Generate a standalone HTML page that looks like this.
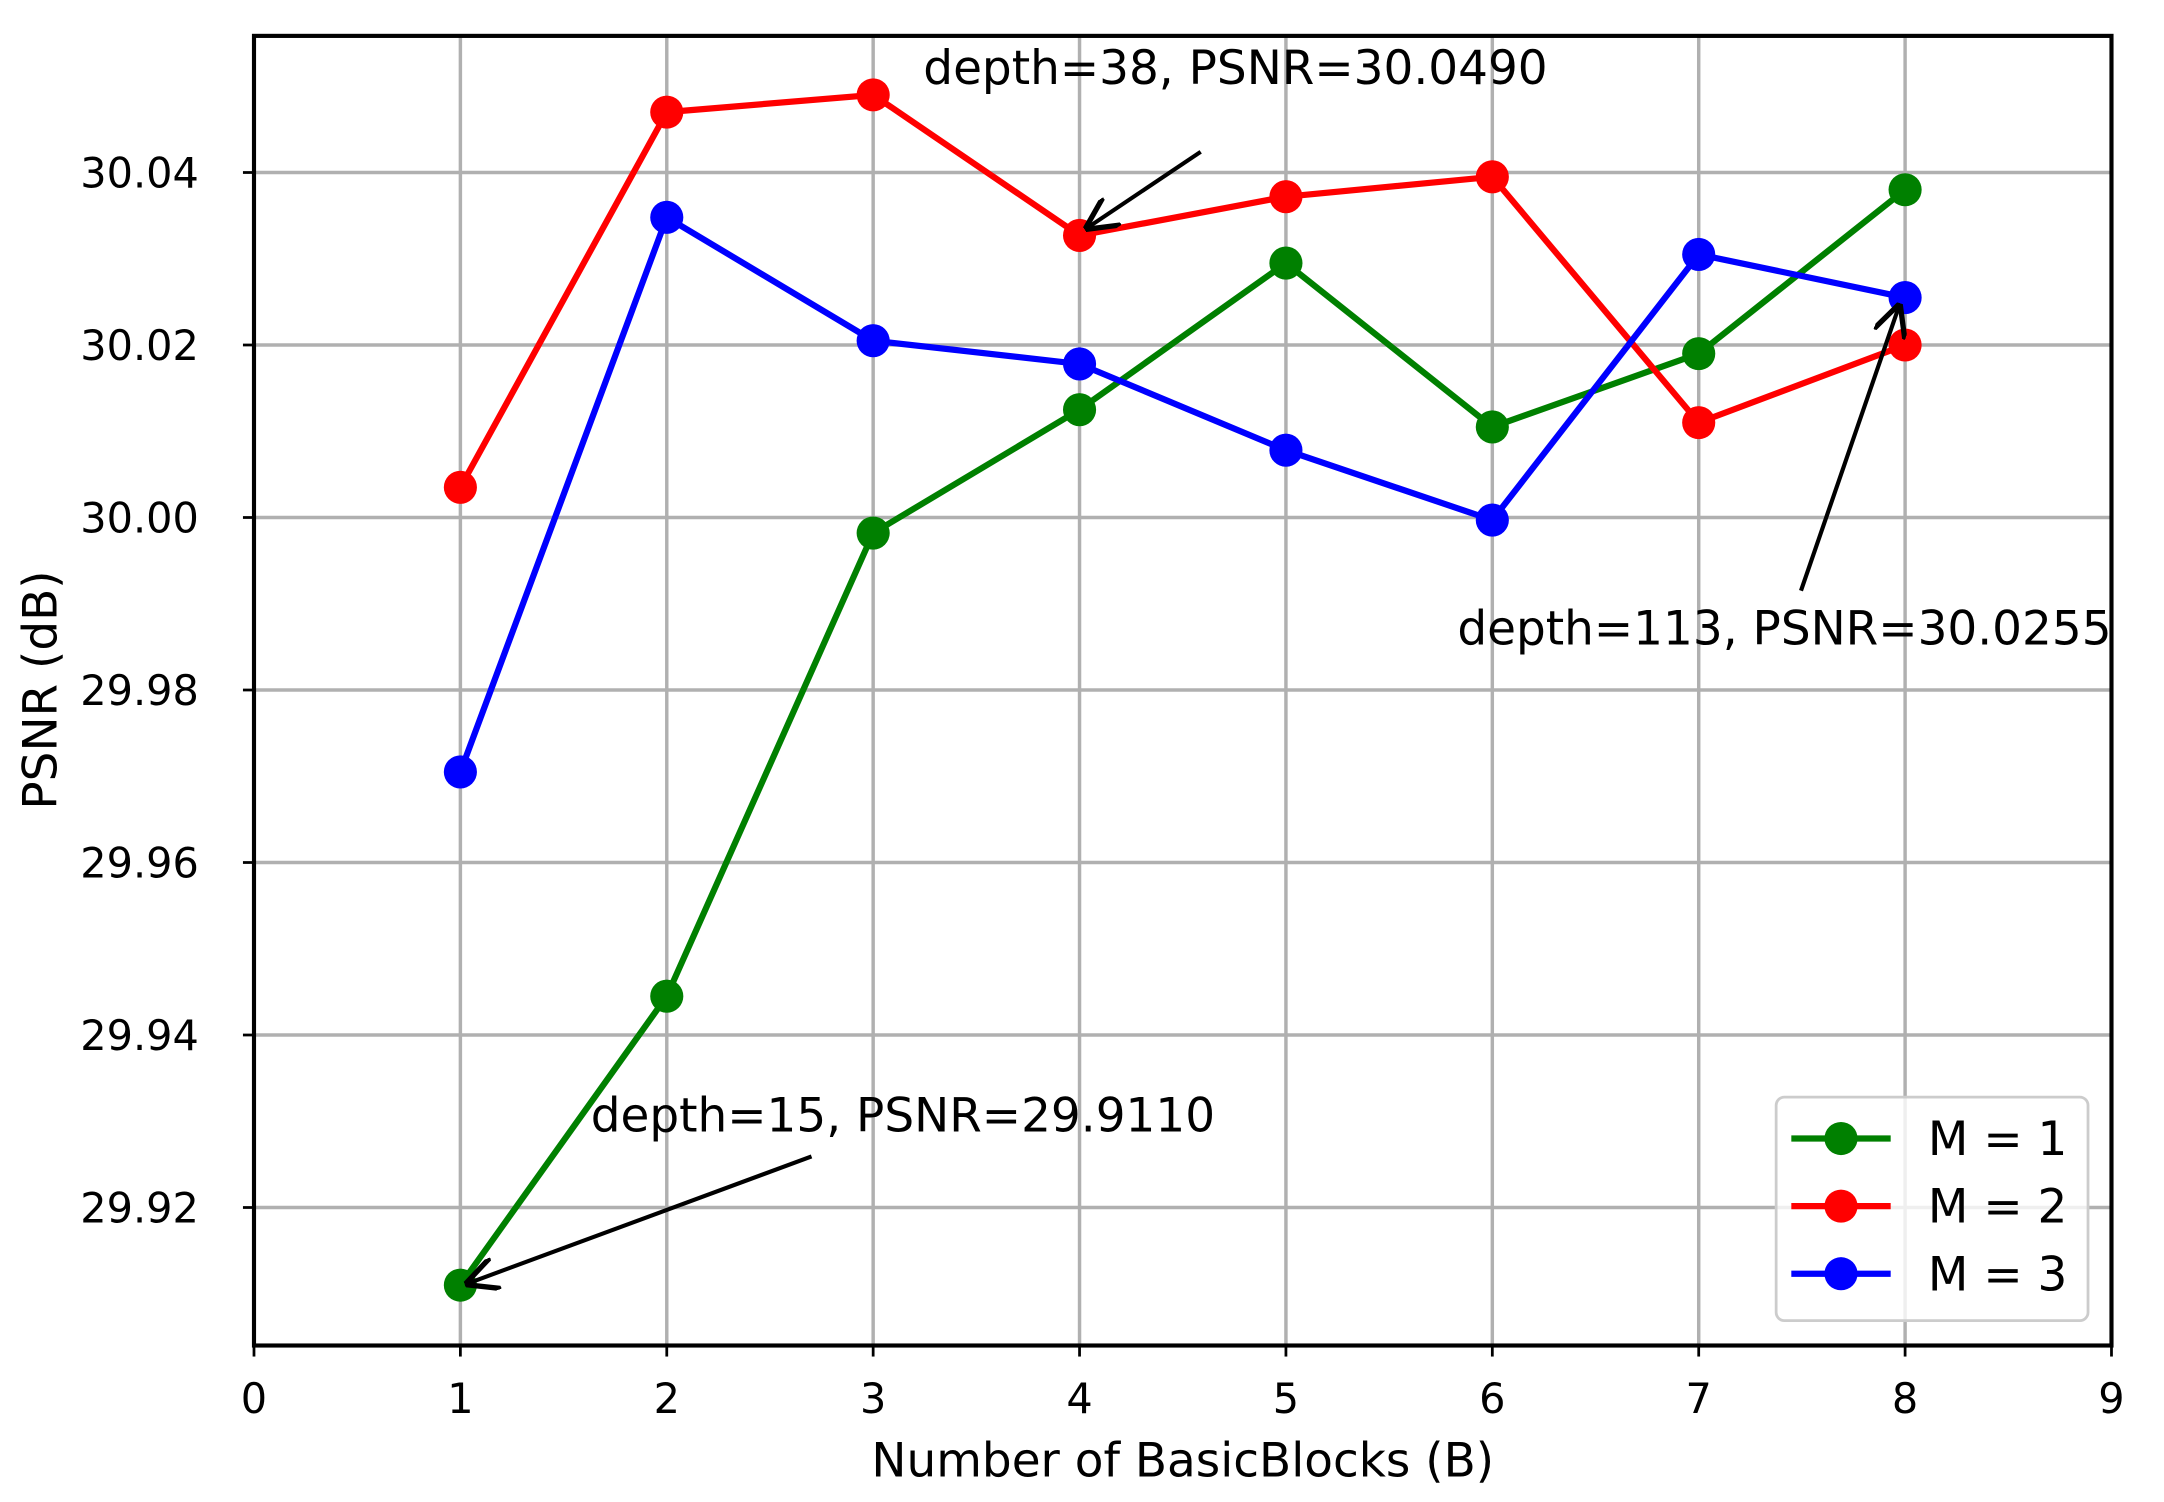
<!DOCTYPE html>
<html><head><meta charset="utf-8"><style>
html,body{margin:0;padding:0;background:#fff}
svg{display:block}
text{font-family:"DejaVu Sans","Liberation Sans",sans-serif;fill:#000}
</style></head><body>
<svg id="s" width="2164" height="1502" viewBox="0 0 1568 1088.4" xmlns="http://www.w3.org/2000/svg">
<defs><marker id="ah" viewBox="0 0 10 10" refX="9" refY="5" markerWidth="8" markerHeight="8" orient="auto"><path d="M0,0 L10,5 L0,10" fill="none" stroke="#000" stroke-width="1.6"/></marker></defs>
<g id="g"></g>
</svg>
<script>
const L=184,R=1530,T=26,B=975;
const X=v=>L+v*(R-L)/9, Y=v=>125+(30.04-v)*6250;
let h='';
for(let i=0;i<=9;i++){h+=`<line x1="${X(i)}" y1="${T}" x2="${X(i)}" y2="${B}" stroke="#b0b0b0" stroke-width="2.5"/>`;
h+=`<line x1="${X(i)}" y1="${B}" x2="${X(i)}" y2="${B+8}" stroke="#000" stroke-width="2"/>`;
h+=`<text x="${X(i)}" y="${B+49}" font-size="30" text-anchor="middle">${i}</text>`;}
[29.92,29.94,29.96,29.98,30.00,30.02,30.04].forEach(v=>{const y=Y(v);
h+=`<line x1="${L}" y1="${y}" x2="${R}" y2="${y}" stroke="#b0b0b0" stroke-width="2.5"/>`;
h+=`<line x1="${L-8}" y1="${y}" x2="${L}" y2="${y}" stroke="#000" stroke-width="2"/>`;
h+=`<text x="${L-40}" y="${y+11}" font-size="30" text-anchor="end">${v.toFixed(2)}</text>`;});
const S=[["green",[29.911,29.9445,29.9982,30.0125,30.0295,30.0105,30.019,30.038]],
["red",[30.0035,30.047,30.049,30.0327,30.0372,30.0395,30.011,30.020]],
["blue",[29.9705,30.0348,30.0205,30.0178,30.0078,29.9997,30.0305,30.0255]]];
S.forEach(([c,d])=>{h+=`<polyline fill="none" stroke="${c}" stroke-width="4.5" points="${d.map((v,i)=>X(i+1)+','+Y(v)).join(' ')}"/>`;
d.forEach((v,i)=>h+=`<circle cx="${X(i+1)}" cy="${Y(v)}" r="12" fill="${c}"/>`);});
h+=`<rect x="${L}" y="${T}" width="${R-L}" height="${B-T}" fill="none" stroke="#000" stroke-width="3"/>`;
h+=`<text x="669" y="61" font-size="34">depth=38, PSNR=30.0490</text>`;
h+=`<line x1="870" y1="110" x2="788" y2="165" stroke="#000" stroke-width="3" marker-end="url(#ah)"/>`;
h+=`<text x="1056" y="467" font-size="34">depth=113, PSNR=30.0255</text>`;
h+=`<line x1="1305" y1="428" x2="1376" y2="222" stroke="#000" stroke-width="3" marker-end="url(#ah)"/>`;
h+=`<text x="428" y="820" font-size="34">depth=15, PSNR=29.9110</text>`;
h+=`<line x1="588" y1="838" x2="339" y2="930" stroke="#000" stroke-width="3" marker-end="url(#ah)"/>`;
h+=`<text x="857" y="1070" font-size="34" text-anchor="middle">Number of BasicBlocks (B)</text>`;
h+=`<text transform="translate(41,500) rotate(-90)" font-size="34" text-anchor="middle">PSNR (dB)</text>`;
h+=`<rect x="1287" y="795" width="226" height="162" rx="6" fill="#fff" fill-opacity="0.8" stroke="#ccc" stroke-width="2"/>`;
S.forEach(([c],i)=>{const y=825+i*49;h+=`<line x1="1298" y1="${y}" x2="1370" y2="${y}" stroke="${c}" stroke-width="4.5"/><circle cx="1334" cy="${y}" r="12" fill="${c}"/><text x="1397" y="${y+12}" font-size="34">M = ${i+1}</text>`;});
document.getElementById('g').innerHTML=h;
</script>
</body></html>
